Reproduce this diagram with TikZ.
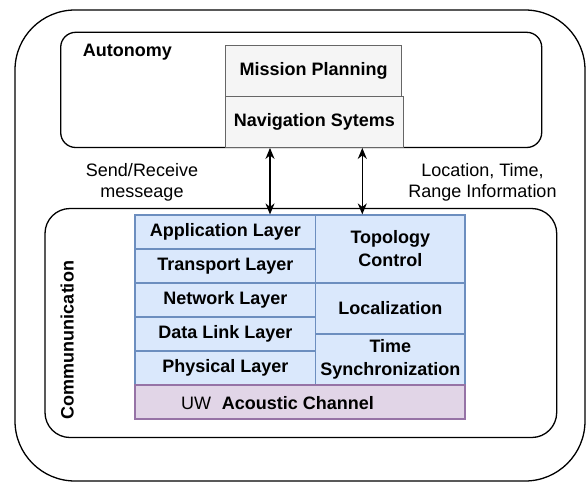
\documentclass[tikz,border=0pt]{standalone}
\usepackage{fontspec}
\setmainfont{Liberation Sans}
\usetikzlibrary{arrows.meta}
\definecolor{layerfill}{HTML}{DAE8FC}
\definecolor{layerline}{HTML}{6C8EBF}
\definecolor{chanfill}{HTML}{E1D5E7}
\definecolor{chanline}{HTML}{9673A6}
\definecolor{sysfill}{HTML}{F5F5F5}
\definecolor{sysline}{HTML}{666666}
\tikzset{
  frame/.style={draw=black, line width=1.3pt, inner sep=0pt},
  sysbox/.style={draw=sysline, fill=sysfill, line width=1.2pt, inner sep=0pt,
    font=\bfseries\fontsize{18}{22}\selectfont},
  layerbox/.style={draw=layerline, fill=layerfill, line width=1.2pt, inner sep=0pt,
    align=center, font=\bfseries\fontsize{18}{23}\selectfont},
  chanbox/.style={draw=chanline, fill=chanfill, line width=1.2pt, inner sep=0pt},
  lbl/.style={inner sep=0pt, align=center, font=\fontsize{18}{21.6}\selectfont},
  dblarrow/.style={line width=1.5pt, {Stealth[length=11pt,width=9pt,inset=3.5pt]}-{Stealth[length=11pt,width=9pt,inset=3.5pt]}}
}
\begin{document}
\begin{tikzpicture}[x=1pt,y=1pt]
        \useasboundingbox (0,0) rectangle (586,-483);
        % outer frames
        \node [frame, rounded corners=60pt, minimum width=570pt, minimum height=471pt] (vehicle) at (300,-245.5) {};
        \node [frame, rounded corners=15pt, minimum width=481pt, minimum height=115.2pt] (autonomy) at (301.2,-89.9) {};
        \node [frame, rounded corners=25pt, minimum width=511.7pt, minimum height=229pt] (comm) at (300.85,-323) {};
        \node [inner sep=0pt, anchor=west, font=\bfseries\fontsize{18}{22}\selectfont] (autolbl) at (82.7,-51.7) {Autonomy};
        \node [inner sep=0pt, rotate=90, font=\bfseries\fontsize{18}{22}\selectfont] (commlbl) at (67.3,-340) {Commununication};
        % autonomy blocks
        \node [sysbox, minimum width=176pt, minimum height=51pt] (mission) at (313.7,-71.2) {Mission Planning};
        \node [sysbox, minimum width=177.6pt, minimum height=50.6pt] (nav) at (314.5,-122) {Navigation Sytems};
        % protocol stack
        \node [layerbox, minimum width=180.7pt, minimum height=34pt] (app) at (225.35,-232) {Application Layer};
        \node [layerbox, minimum width=180.7pt, minimum height=34pt] (trans) at (225.35,-266) {Transport Layer};
        \node [layerbox, minimum width=180.7pt, minimum height=34pt] (net) at (225.35,-300) {Network Layer};
        \node [layerbox, minimum width=180.7pt, minimum height=34pt] (dll) at (225.35,-334) {Data Link Layer};
        \node [layerbox, minimum width=180.7pt, minimum height=34pt] (phy) at (225.35,-368) {Physical Layer};
        \node [layerbox, minimum width=149.3pt, minimum height=68pt] (topo) at (390.35,-249) {Topology\\Control};
        \node [layerbox, minimum width=149.3pt, minimum height=51pt] (loc) at (390.35,-308.5) {Localization};
        \node [layerbox, minimum width=149.3pt, minimum height=51pt] (tsync) at (390.35,-359.5) {Time\\Synchronization};
        \node [chanbox, minimum width=330pt, minimum height=34pt] (chan) at (300,-402) {};
        \node [inner sep=0pt, font=\fontsize{18}{22}\selectfont] (chanlbl) at (277.5,-402.7) {UW\hspace{0.6em}\textbf{Acoustic Channel}};
        % links
        \draw [dblarrow] ([xshift=-44.5pt]nav.south) -- ([xshift=-44.5pt]nav.south |- app.north);
        \draw [dblarrow] ([xshift=47.8pt]nav.south) -- ([xshift=47.8pt]nav.south |- topo.north);
        \node [lbl] (msglbl) at (142,-182.5) {Send/Receive\\messeage};
        \node [lbl] (infolbl) at (482.5,-182.5) {Location, Time,\\Range Information};
    \end{tikzpicture}
\end{document}
